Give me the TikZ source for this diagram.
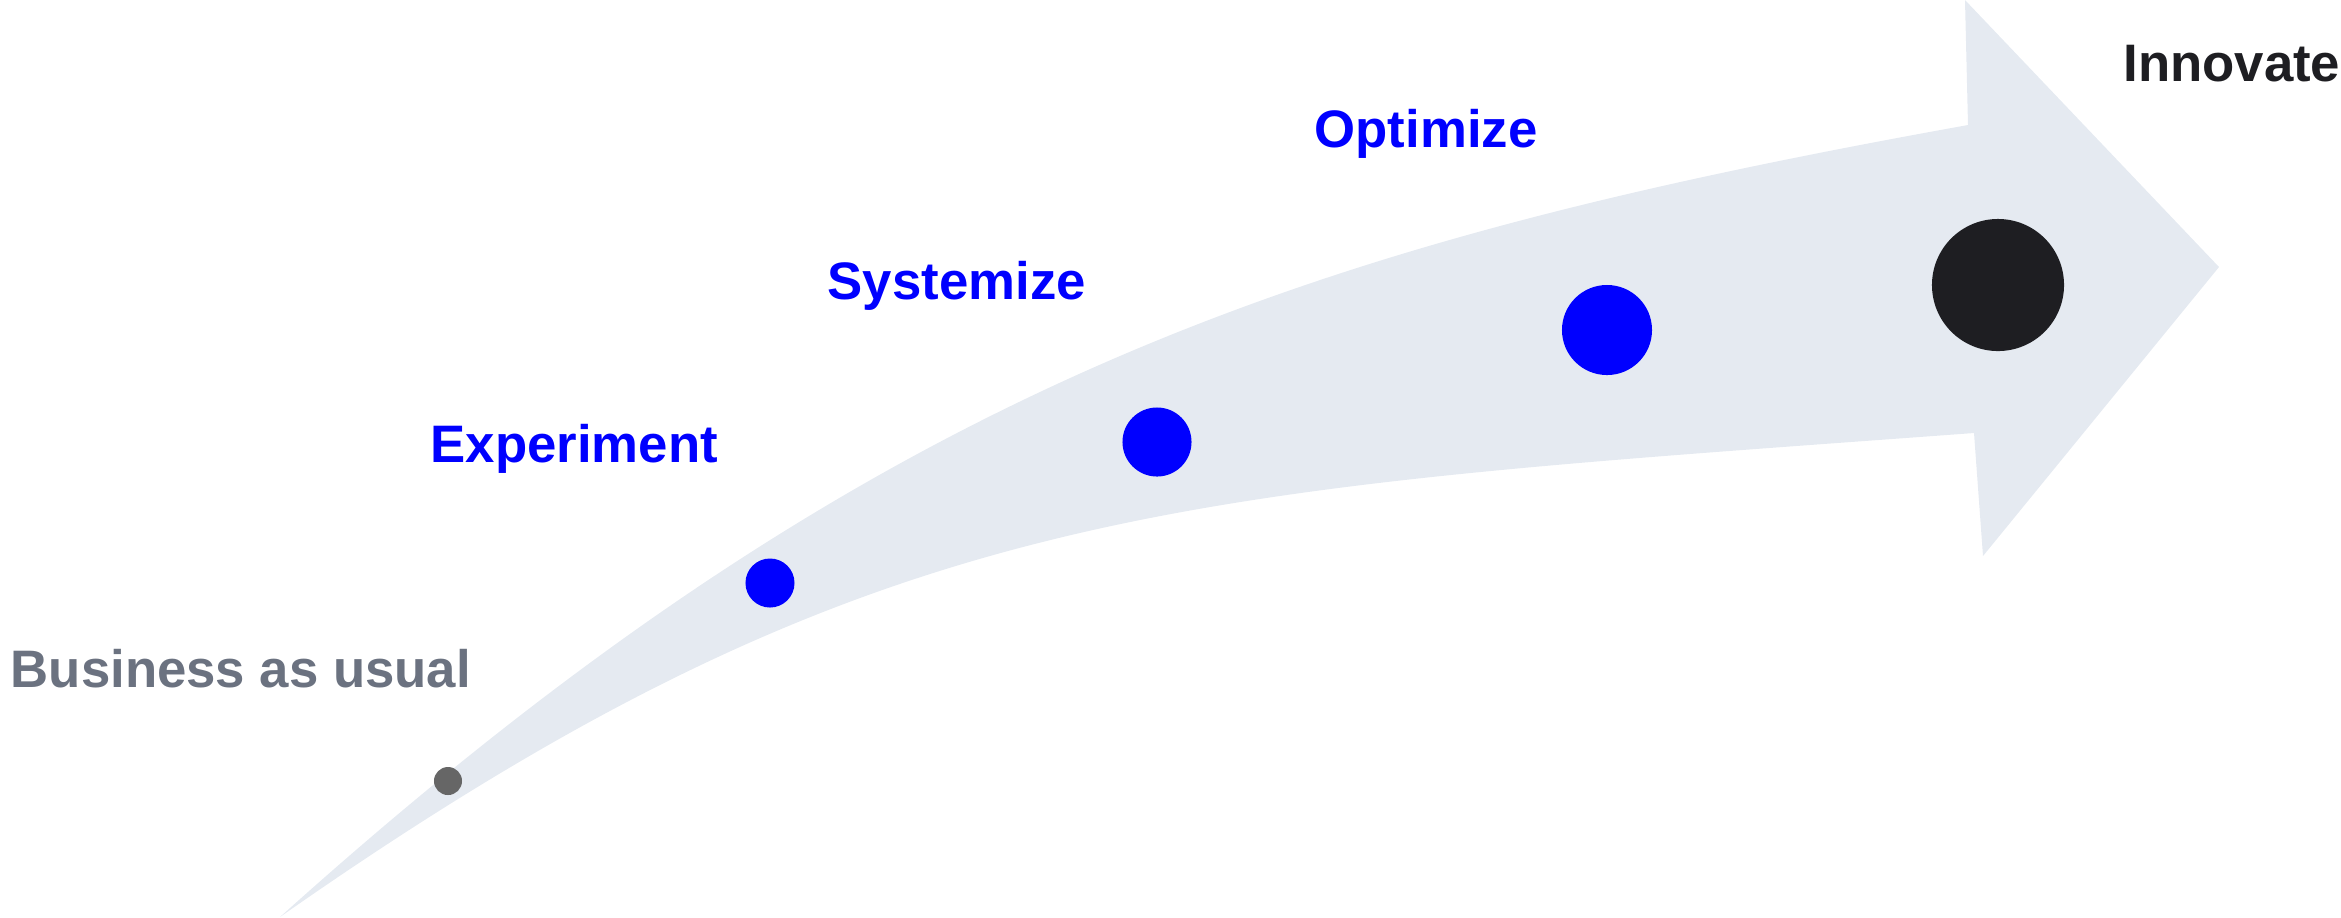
\documentclass[tikz,border=0pt]{standalone}
\usepackage{fontspec}
\setmainfont{Liberation Sans}
\usepackage{xcolor}
\definecolor{bandgray}{RGB}{229,234,241}
\definecolor{stageblue}{RGB}{0,0,255}
\definecolor{inkdark}{RGB}{30,30,34}
\definecolor{mutegray}{RGB}{107,114,128}
\definecolor{dotgray}{RGB}{102,102,102}
\tikzset{
  stage/.style={font=\bfseries\fontsize{15}{18}\selectfont, inner sep=0pt, anchor=base west},
}

\begin{document}
\begin{tikzpicture}[x=0.01cm, y=-0.01cm]
    \useasboundingbox (0,0) rectangle (2341,917);
    % the curved arrow
    \fill[bandgray] (280,917) .. controls (880,377) and (1318,242) .. (1968,125)
        -- (1965,0) -- (2219,267) -- (1983,556) -- (1974,433)
        .. controls (1174,492) and (880,497) .. (280,917) -- cycle;
    % dots along the arrow
    \fill[dotgray] (448,781) circle (0.14cm);
    \fill[stageblue] (770,583) circle (0.245cm);
    \fill[stageblue] (1157,442) circle (0.345cm);
    \fill[stageblue] (1607,330) circle (0.45cm);
    \fill[inkdark] (1998,285) circle (0.66cm);
    % labels
    \node[stage, text=mutegray] (usual) at (10,687) {Business as usual};
    \node[stage, text=stageblue] (exper) at (430,462) {Experiment};
    \node[stage, text=stageblue] (syst) at (827,299) {Systemize};
    \node[stage, text=stageblue] (optim) at (1314,147) {Optimize};
    \node[stage, text=inkdark, anchor=base east] (innov) at (2341,81) {Innovate};
  \end{tikzpicture}
\end{document}
